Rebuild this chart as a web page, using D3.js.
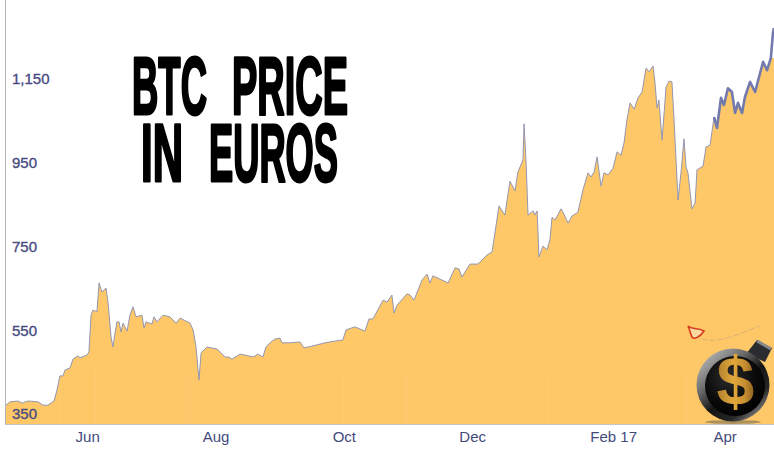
<!DOCTYPE html>
<html><head><meta charset="utf-8">
<script src="https://cdnjs.cloudflare.com/ajax/libs/d3/7.8.5/d3.min.js"></script>
<style>html,body{margin:0;padding:0;background:#fff;overflow:hidden}svg{display:block}</style>
</head><body><div id="c"></div>
<script>
// days since 22 Apr 2016
const days = [0,2.4,6.2,8.1,10.9,15.7,18.1,20.4,23.3,24.7,26.1,27.6,28.5,30.9,32.3,34.7,35.6,39,39.9,40.9,41.8,43.7,44.7,46.1,48,49,50.4,51.3,52.3,53.2,54.2,55.1,56.1,58,59.4,60.8,62.3,65.1,66.1,67,69.9,70.8,72.2,75.1,78.4,81.3,83.2,87.9,89.4,90.8,92.2,93.2,96,100.8,104.6,106.5,107.9,111.7,115.5,117.9,120.2,122.6,124,126,128.3,130.7,131.7,135.5,140.2,142.1,145.9,152.1,156.8,160.6,162.1,166.3,171.1,173,174.9,179.7,181.6,183.9,184.9,186.3,191.1,192.5,194.4,198.2,200.6,202,203.4,210.6,213.9,215.8,217.2,221,224.8,229.1,231.5,234.8,237.6,240,242.4,243.8,246.2,246.7,247.6,248.6,251,251.9,252.9,253.8,255.7,257.6,259,260,261.4,264.3,265.2,267.6,269.5,272.3,274.7,277.1,278.5,280,281.4,283.3,284.7,286.6,289,290.9,292.8,294.2,295.6,297.1,299,300.9,302.8,304.7,306.1,308,308.9,309.9,310.8,312.3,314.2,315.6,317,318,319.9,321.3,322.7,323.7,324.6,326.5,328,328.9,331.8,333.2,335.1,337,338.4,340.3,341.7,343.6,345.5,347,348.4,350.3,351.7,354.1,356.5,360.3,362.2,364,365,365.5];
const priceEur = [369,379,381,376,381,379,371,371,381,407,441,441,455,460,481,489,484,491,498,586,598,594,663,641,651,615,534,510,543,570,570,546,567,548,586,606,582,586,555,570,565,582,570,586,582,567,579,567,551,510,431,496,510,505,486,486,481,493,489,486,493,486,510,520,529,531,520,520,522,508,512,520,524,527,551,558,548,577,577,622,617,634,591,610,637,634,622,670,684,663,680,663,699,696,677,708,708,730,737,847,825,906,883,928,957,1043,957,825,835,825,835,725,751,742,766,820,813,840,832,806,823,832,885,926,916,928,964,894,926,921,937,976,968,997,1052,1093,1078,1105,1119,1176,1167,1181,1143,1081,1100,1004,1131,1145,1143,1052,861,926,1007,940,926,840,854,933,942,988,992,1059,1033,1105,1088,1128,1119,1069,1093,1069,1107,1143,1119,1191,1171,1200,1260,1272];
const fillCap = 1200;
const heavyLineFrom = 336;
const yTicks = [350,550,750,950,1150];
const xTickDates = ["2016-06-01","2016-08-01","2016-10-01","2016-12-01","2017-02-06","2017-03-31"];
const xTickLabels = ["Jun","Aug","Oct","Dec","Feb 17","Apr"];
const monthLines = ["2016-05-18","2016-06-04","2016-07-18","2016-08-24","2016-09-30","2016-10-30","2016-12-01","2017-01-05","2017-02-14","2017-03-12","2017-04-05"];

const W=774,H=452;
const start=new Date("2016-04-22T00:00:00Z");
const toDate=d=>new Date(+start+d*864e5);
const x=d3.scaleUtc().domain([start,toDate(365.5)]).range([5,774]);
const y=d3.scaleLinear().domain([350,1150]).range([414,79]);
const baseY=424;
const pts=days.map((d,i)=>({d,t:toDate(d),v:priceEur[i]}));
const svg=d3.select("#c").append("svg").attr("width",W).attr("height",H).attr("viewBox",[0,0,W,H]);
const defs=svg.append("defs");
const rim=defs.append("linearGradient").attr("id","rim").attr("x1",.1).attr("y1",.1).attr("x2",.85).attr("y2",.95);
[[0,"#b5b5b5"],[.3,"#6a6a6a"],[.55,"#141414"],[.8,"#262626"],[1,"#8f8f8f"]].forEach(s=>rim.append("stop").attr("offset",s[0]).attr("stop-color",s[1]));
const rg=defs.append("radialGradient").attr("id","ball").attr("cx","40%").attr("cy","35%").attr("r","70%");
[[0,"#2c2c2c"],[.6,"#0b0b0b"],[1,"#000"]].forEach(s=>rg.append("stop").attr("offset",s[0]).attr("stop-color",s[1]));
const gold=defs.append("linearGradient").attr("id","gold").attr("x1",0).attr("y1",0).attr("x2",1).attr("y2",0);
[[0,"#b07e2c"],[.45,"#e2a83c"],[.75,"#c68e30"],[1,"#8a6020"]].forEach(s=>gold.append("stop").attr("offset",s[0]).attr("stop-color",s[1]));

// area and line
svg.append("path").datum(pts)
  .attr("d",d3.area().x(d=>x(d.t)).y0(baseY).y1(d=>y(Math.min(d.v,fillCap))))
  .attr("fill","#fec767");
svg.append("g").selectAll("line").data(monthLines).join("line")
  .attr("x1",d=>x(new Date(d+"T00:00:00Z"))).attr("x2",d=>x(new Date(d+"T00:00:00Z")))
  .attr("y1",370).attr("y2",baseY).attr("stroke","#fff").attr("stroke-opacity",.1);
const lineGen=d3.line().x(d=>x(d.t)).y(d=>y(d.v));
svg.append("path").datum(pts).attr("d",lineGen)
  .attr("fill","none").attr("stroke","#9497b2").attr("stroke-width",1);
svg.append("path").datum(pts.filter(d=>d.d>=heavyLineFrom)).attr("d",lineGen)
  .attr("fill","none").attr("stroke","#727aae").attr("stroke-width",2.6).attr("stroke-linejoin","round");

// axes frame
svg.append("line").attr("x1",5.5).attr("x2",5.5).attr("y1",0).attr("y2",baseY).attr("stroke","#b4b4b8");
svg.append("line").attr("x1",5).attr("x2",774).attr("y1",baseY+.5).attr("y2",baseY+.5).attr("stroke","#c4c4c8");

// axis labels
const yAxis=d3.axisRight(y).tickValues(yTicks).tickSize(0).tickPadding(0).tickFormat(d3.format(","));
const gy=svg.append("g").attr("transform","translate(12,0)").call(yAxis);
gy.select(".domain").remove();
gy.selectAll("text").attr("font-family","'Liberation Sans',Arial,sans-serif").attr("font-size",15)
  .attr("fill","#474b80").attr("stroke","#474b80").attr("stroke-width",.35);
const xDates=xTickDates.map(d=>new Date(d+"T00:00:00Z"));
const xAxis=d3.axisBottom(x).tickValues(xDates).tickSize(0).tickPadding(0).tickFormat((d,i)=>xTickLabels[i]);
const gx=svg.append("g").attr("transform","translate(-2,431)").call(xAxis);
gx.select(".domain").remove();
gx.selectAll("text").attr("font-family","'Liberation Sans',Arial,sans-serif").attr("font-size",15).attr("fill","#444a7c").attr("dy","0.7em");

// title
const titleWords=[["BTC",132,115,75],["PRICE",232,115,116],["IN",141,182,42],["EUROS",209,182,129]];
svg.append("g").selectAll("text").data(titleWords).join("text")
  .attr("x",d=>d[1]).attr("y",d=>d[2]-1.5).attr("textLength",d=>d[3]).attr("lengthAdjust","spacingAndGlyphs")
  .attr("font-family","'Liberation Sans',Arial,sans-serif").attr("font-weight",700).attr("font-size",81)
  .attr("fill","#000").attr("stroke","#000").attr("stroke-width",3).attr("stroke-linejoin","round")
  .text(d=>d[0]);

// bomb icon
const b=svg.append("g");
b.append("path").attr("d","M688 326 C692 330 696 327 704 331 C700 337 694 340 692 337 C690 333 690 330 688 326Z").attr("fill","#fbd9a0").attr("stroke","#d8391c").attr("stroke-width",1.6);
b.append("path").attr("d","M702 339 C722 344 742 332 760 326").attr("fill","none").attr("stroke","#d9b27a").attr("stroke-width",1).attr("stroke-dasharray","6 2");
b.append("ellipse").attr("cx",733).attr("cy",422).attr("rx",28).attr("ry",2).attr("fill","#8a7a5a").attr("opacity",.7);
b.append("path").attr("d","M746 354 L757 340 L772 348 L765 362Z").attr("fill","#2a2c30");
b.append("path").attr("d","M757 341 L771 349").attr("stroke","#85888d").attr("stroke-width",3);
b.append("circle").attr("cx",733).attr("cy",385).attr("r",36.5).attr("fill","url(#rim)");
b.append("circle").attr("cx",735).attr("cy",386).attr("r",30).attr("fill","url(#ball)");
b.append("text").attr("x",735.5).attr("y",405).attr("text-anchor","middle").attr("font-family","'Liberation Sans',sans-serif").attr("font-weight",700).attr("font-size",68).attr("fill","url(#gold)").text("$");
</script></body></html>
